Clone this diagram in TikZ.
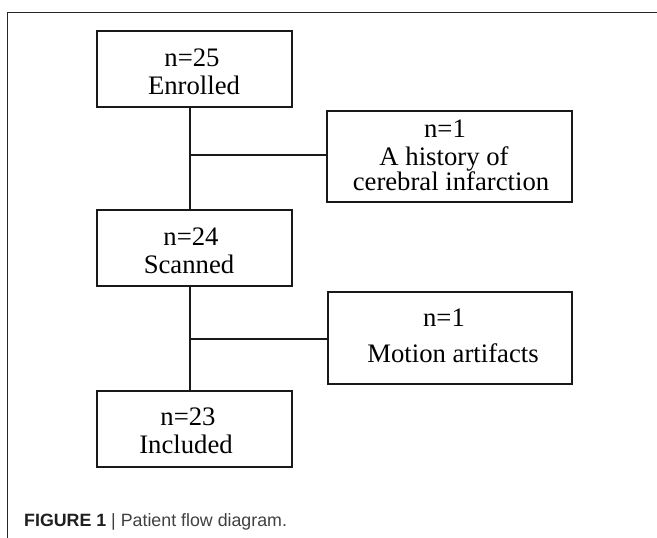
\documentclass[tikz,border=0pt]{standalone}
\usepackage{fontspec}
\setmainfont{Liberation Serif}
\newfontfamily\capfont{Liberation Sans}
\begin{document}
\begin{tikzpicture}[x=1pt,y=-1pt,
  box/.style={draw=black!90, line width=1.4pt, inner sep=0pt},
  txt/.style={anchor=base, inner sep=0pt, font=\fontsize{26.7}{28}\selectfont},
  link/.style={draw=black!90, line width=1.2pt},
  frame/.style={draw=black!85, line width=0.9pt}]
\useasboundingbox (0,0) rectangle (657,538);
\fill[white] (0,0) rectangle (657,538);
% frame
\coordinate (fb) at (7.5,538);
\coordinate (fc) at (7.5,12);
\coordinate (fr) at (657,12);
\draw[frame] (fb) -- (fc) -- (fr);
% boxes
\node[box, minimum width=195pt, minimum height=76pt] (b1) at (194.5,69) {};
\node[box, minimum width=245pt, minimum height=91pt] (b2) at (449.5,156.5) {};
\node[box, minimum width=195pt, minimum height=76pt] (b3) at (194.5,248) {};
\node[box, minimum width=244pt, minimum height=92pt] (b4) at (450,338) {};
\node[box, minimum width=195pt, minimum height=76pt] (b5) at (194.5,429) {};
% texts
\node[txt] (t1a) at (192,66.7) {n=25};
\node[txt] (t1b) at (194,94) {Enrolled};
\node[txt] (t2a) at (445,137.7) {n=1};
\node[txt] (t2b) at (444,165.7) {A history of};
\node[txt] (t2c) at (451,190) {cerebral infarction};
\node[txt] (t3a) at (191,245) {n=24};
\node[txt] (t3b) at (189,273) {Scanned};
\node[txt] (t4a) at (444,326) {n=1};
\node[txt] (t4b) at (453,362) {Motion artifacts};
\node[txt] (t5a) at (188,425) {n=23};
\node[txt] (t5b) at (186,453) {Included};
% connectors
\coordinate (j1) at (190,155);
\coordinate (j2) at (190,339);
\draw[link] (b1.south -| j1) -- (b3.north -| j1);
\draw[link] (b3.south -| j2) -- (b5.north -| j2);
\draw[link] (j1) -- (b2.west |- j1);
\draw[link] (j2) -- (b4.west |- j2);
% caption
\node[anchor=base west, inner sep=0pt, font=\capfont\fontsize{17.8}{20}\selectfont] (cap) at (24,526)
  {\textcolor{black!88}{\bfseries FIGURE 1} \textcolor{black!75}{| Patient flow diagram.}};
\end{tikzpicture}
\end{document}
